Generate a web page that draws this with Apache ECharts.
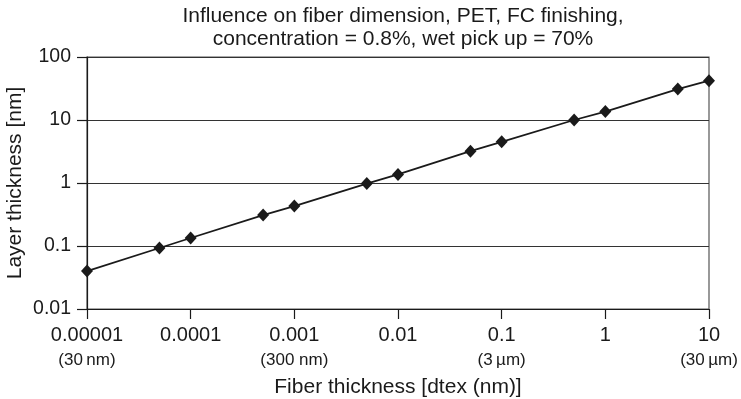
<!DOCTYPE html>
<html>
<head>
<meta charset="utf-8">
<script src="https://cdn.jsdelivr.net/npm/echarts@6/dist/echarts.min.js"></script>
<style>
  html, body { margin: 0; padding: 0; background: #fff; }
  #chart { width: 741px; height: 399px; }
</style>
</head>
<body>
<div id="chart"></div>
<script>
// Fiber thickness (dtex) and resulting finish layer thickness (nm)
const fiberDtex = [0.00001, 0.00005, 0.0001, 0.0005, 0.001, 0.005, 0.01, 0.05, 0.1, 0.5, 1, 5, 10];
const layerNm   = [0.040, 0.093, 0.134, 0.31, 0.43, 0.98, 1.37, 3.2, 4.5, 10, 13.6, 31, 42];

// Decade tick labels for the x axis, with fiber diameter notes below some of them
const xTickLabels = ['0.00001', '0.0001', '0.001', '0.01', '0.1', '1', '10'];
const xTickNotes  = ['(30\u2009nm)', '', '(300 nm)', '', '(3\u2009\u00b5m)', '', '(30\u2009\u00b5m)'];
const yTickLabels = ['0.01', '0.1', '1', '10', '100'];

const FONT = '"Liberation Sans", Arial, Helvetica, sans-serif';
const INK = '#1a1a1a';

const chart = echarts.init(document.getElementById('chart'), null, { renderer: 'canvas' });

chart.setOption({
  animation: false,
  backgroundColor: '#fff',
  title: {
    text: 'Influence on fiber dimension, PET, FC finishing,\nconcentration = 0.8%, wet pick up = 70%',
    left: 398,
    top: 0,
    textAlign: 'center',
    textStyle: { fontFamily: FONT, fontSize: 21, fontWeight: 'normal', color: INK, lineHeight: 23 }
  },
  grid: {
    left: 87, right: 32, top: 57, bottom: 90,
    outerBoundsMode: 'none',
    show: true, borderColor: '#555', borderWidth: 1.2, backgroundColor: 'transparent'
  },
  xAxis: {
    type: 'log',
    logBase: 10,
    min: 0.00001,
    max: 10,
    name: 'Fiber thickness [dtex (nm)]',
    nameLocation: 'middle',
    nameGap: 68,
    nameMoveOverlap: false,
    nameTextStyle: { fontFamily: FONT, fontSize: 21, color: INK },
    axisLine: { lineStyle: { color: INK, width: 1.2 } },
    axisTick: { show: true, length: 10, inside: false, lineStyle: { color: INK, width: 1.2 } },
    splitLine: { show: false },
    axisLabel: {
      margin: 14,
      color: INK,
      fontFamily: FONT,
      hideOverlap: false,
      formatter: function (v) {
        const i = Math.round(Math.log10(v)) + 5;
        const note = xTickNotes[i] || '';
        return '{a|' + (xTickLabels[i] || '') + '}\n{b|' + (note || ' ') + '}';
      },
      rich: {
        a: { fontFamily: FONT, fontSize: 20, color: INK, lineHeight: 25 },
        b: { fontFamily: FONT, fontSize: 17, color: INK, lineHeight: 25 }
      }
    }
  },
  yAxis: {
    type: 'log',
    logBase: 10,
    min: 0.01,
    max: 100,
    name: 'Layer thickness [nm]',
    nameLocation: 'middle',
    nameGap: 61,
    nameMoveOverlap: false,
    nameTextStyle: { fontFamily: FONT, fontSize: 21, color: INK },
    axisLine: { lineStyle: { color: INK, width: 1.2 } },
    axisTick: { show: true, length: 10, inside: false, lineStyle: { color: INK, width: 1.2 } },
    splitLine: { show: true, lineStyle: { color: '#333', width: 1.2 } },
    axisLabel: {
      margin: 16,
      color: INK,
      fontFamily: FONT,
      fontSize: 19.5,
      formatter: function (v) {
        const i = Math.round(Math.log10(v)) + 2;
        return yTickLabels[i] || '';
      }
    }
  },
  series: [{
    type: 'line',
    data: fiberDtex.map((x, i) => [x, layerNm[i]]),
    symbol: 'diamond',
    symbolSize: [12, 13],
    showAllSymbol: true,
    lineStyle: { color: INK, width: 1.8 },
    itemStyle: { color: INK },
    clip: false,
    z: 3
  }]
});
</script>
</body>
</html>
